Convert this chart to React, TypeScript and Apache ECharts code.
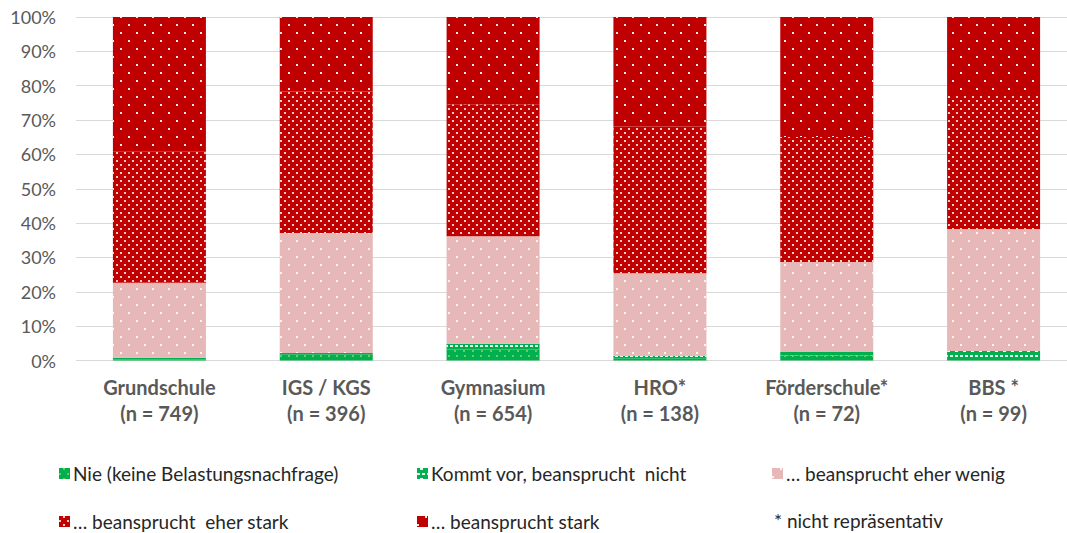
import React, { useEffect, useRef } from "react";
import * as echarts from "echarts";

const categories = [
  "Grundschule\n(n = 749)",
  "IGS / KGS\n(n = 396)",
  "Gymnasium\n(n = 654)",
  "HRO*\n(n = 138)",
  "Förderschule*\n(n = 72)",
  "BBS *\n(n = 99)",
];

const seriesNames = [
  "Nie (keine Belastungsnachfrage)",
  "Kommt vor, beansprucht  nicht",
  "… beansprucht eher wenig",
  "… beansprucht  eher stark",
  "… beansprucht stark",
];

const nie = [0.3, 1.8, 3.2, 0.5, 1.5, 1.0];
const kommtVor = [0.5, 0.4, 1.7, 0.8, 1.0, 1.8];
const eherWenig = [21.8, 34.9, 31.3, 24.1, 26.2, 35.5];
const eherStark = [38.2, 41.2, 38.4, 42.7, 36.4, 38.7];
const stark = [39.2, 21.7, 25.4, 31.9, 34.9, 23.0];

const noteText = "* nicht repräsentativ";

const FONT = "Lato, 'Open Sans', sans-serif";

export default function App() {
  const ref = useRef<HTMLDivElement>(null);
  useEffect(() => {
    if (!ref.current) return;
    const chart = echarts.init(ref.current, undefined, { renderer: "svg" });

    const colors = ["#00B050", "#00B050", "#E6B8B7", "#C00000", "#C00000"];
    const decals: any[] = [
      {
        symbol: "rect",
        symbolSize: 1,
        color: "rgba(146,208,80,0.8)",
        dashArrayX: [[1.5, 6], [0, 3.75, 1.5, 2.25]],
        dashArrayY: [1.5, 2.25],
        rotation: 0,
      },
      {
        symbol: "rect",
        symbolSize: 1,
        color: "rgba(255,255,255,0.9)",
        dashArrayX: [[3, 2], [0, 2.5, 3, 2]],
        dashArrayY: [1.2, 2.8],
        rotation: 0,
      },
      {
        symbol: "rect",
        symbolSize: 1,
        color: "rgba(255,255,255,0.85)",
        dashArrayX: [[1.5, 13.5], [0, 7.5, 1.5, 6]],
        dashArrayY: [1.5, 6],
        rotation: 0,
      },
      {
        symbol: "rect",
        symbolSize: 1,
        color: "rgba(255,225,225,0.9)",
        dashArrayX: [[1.8, 5.7], [0, 3.75, 1.8, 1.95]],
        dashArrayY: [1.8, 1.95],
        rotation: 0,
      },
      {
        symbol: "rect",
        symbolSize: 1,
        color: "rgba(255,255,255,0.9)",
        dashArrayX: [[1.5, 13.5], [0, 7.5, 1.5, 6]],
        dashArrayY: [1.5, 6],
        rotation: 0,
      },
    ];
    const dataArrays = [nie, kommtVor, eherWenig, eherStark, stark];

    const series = seriesNames.map((name, i) => ({
      name,
      type: "bar",
      stack: "total",
      barWidth: 93,
      data: dataArrays[i],
      itemStyle: { color: colors[i], decal: decals[i] },
      emphasis: { disabled: true },
    }));

    const legendPos = [
      { left: 59, top: 464 },
      { left: 417, top: 464 },
      { left: 772, top: 464 },
      { left: 59, top: 512 },
      { left: 417, top: 512 },
    ];

    const legends = seriesNames.map((name, i) => ({
      data: [name],
      left: legendPos[i].left,
      top: legendPos[i].top,
      padding: 0,
      itemWidth: 11,
      itemHeight: 11,
      itemGap: 0,
      icon: "rect",
      selectedMode: false,
      textStyle: { fontFamily: FONT, fontSize: 19, color: "#262626", padding: [0, 0, 0, -2] },
    }));

    chart.setOption({
      animation: false,
      aria: { enabled: false },
      grid: { left: 76, top: 17, bottom: 172.5, right: 0, containLabel: false },
      xAxis: {
        type: "category",
        data: categories,
        axisLine: { show: false },
        axisTick: { show: false },
        axisLabel: {
          fontFamily: FONT,
          fontSize: 20,
          fontWeight: "bold",
          color: "#595959",
          lineHeight: 26,
          margin: 13,
        },
      },
      yAxis: {
        type: "value",
        min: 0,
        max: 100,
        interval: 10,
        axisLabel: {
          formatter: "{value}%",
          fontFamily: FONT,
          fontSize: 18,
          color: "#595959",
          margin: 20,
        },
        splitLine: { lineStyle: { color: "#D9D9D9", width: 1 } },
        axisLine: { show: false },
        axisTick: { show: false },
      },
      legend: legends,
      graphic: [
        {
          type: "text",
          left: 774,
          top: 511,
          style: { text: noteText, font: `19px ${FONT}`, fill: "#262626" },
        },
      ],
      series,
    });
    return () => chart.dispose();
  }, []);
  return (
    <div
      style={{
        position: "absolute",
        left: 0,
        top: 0,
        width: 1067,
        height: 533,
        overflow: "hidden",
      }}
    >
      <div ref={ref} style={{ width: 1077, height: 533 }} />
    </div>
  );
}
